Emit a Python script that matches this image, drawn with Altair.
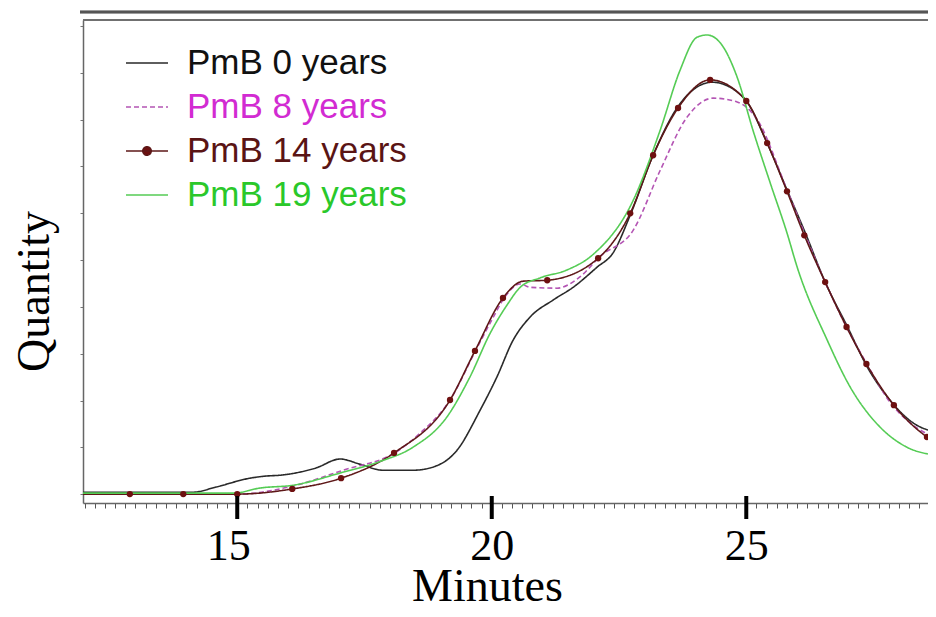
import altair as alt
import pandas as pd

# ---------------- data ----------------
series = ["PmB 0 years", "PmB 8 years", "PmB 14 years", "PmB 19 years"]
line_colors = ["#2a2a2a", "#b455b4", "#5e1818", "#55cc55"]
label_colors = ["#111111", "#d22bd2", "#5a1414", "#2ac82a"]
dashes = [[1, 0], [5, 3], [1, 0], [1, 0]]

p0_min = [11.97, 14.13, 14.58, 15.25, 15.51, 15.90, 16.55, 17.02, 17.41, 17.86,
          18.45, 18.79, 19.32, 19.77, 20.10, 20.42, 20.75, 21.21, 21.60, 22.07,
          22.38, 22.72, 23.17, 23.64, 24.33, 24.94, 25.41, 25.80, 26.16, 26.55,
          26.99, 27.38, 27.82, 28.28, 28.73]
p0_q = [0.04, 0.04, 0.15, 0.34, 0.38, 0.41, 0.56, 0.75, 0.64, 0.51,
        0.51, 0.56, 0.94, 1.79, 2.50, 3.29, 3.78, 4.15, 4.42, 4.85,
        5.15, 5.96, 7.24, 8.25, 8.80, 8.48, 7.50, 6.50, 5.58, 4.53,
        3.57, 2.71, 2.01, 1.52, 1.32]

p8_min = [11.97, 15.00, 16.08, 17.08, 18.12, 18.59, 19.18, 19.67, 20.03, 20.22,
          20.56, 20.75, 21.28, 21.73, 22.13, 22.78, 23.31, 23.84, 24.35, 24.82,
          25.21, 25.80, 26.16, 26.55, 26.97, 27.38, 27.82, 28.28, 28.73]
p8_q = [0, 0, 0.17, 0.51, 0.90, 1.30, 2.01, 3.04, 3.78, 4.15,
        4.49, 4.42, 4.40, 4.64, 5.08, 5.64, 6.92, 8.06, 8.46, 8.38,
        8.01, 6.50, 5.53, 4.53, 3.57, 2.76, 1.97, 1.47, 1.20]

p14_min = [11.97, 12.89, 13.94, 15.00, 16.08, 17.04, 18.08, 19.18, 19.67, 20.22,
           20.62, 21.09, 22.09, 22.72, 23.17, 23.66, 24.29, 25.00, 25.41, 25.80,
           26.14, 26.55, 26.97, 27.36, 27.90, 28.55, 28.73]
p14_q = [0, 0, 0, 0, 0.11, 0.34, 0.88, 2.01, 3.06, 4.19,
         4.55, 4.57, 5.04, 6.00, 7.24, 8.25, 8.85, 8.40, 7.50, 6.47,
         5.53, 4.53, 3.57, 2.78, 1.90, 1.22, 1.09]

m14_min = [12.89, 13.94, 15.00, 16.08, 17.04, 18.08, 19.18, 19.67, 20.22, 21.09,
           22.09, 22.72, 23.17, 23.66, 24.29, 25.00, 25.41, 25.80, 26.14, 26.55,
           26.97, 27.36, 27.90, 28.55]
m14_q = [0, 0, 0, 0.11, 0.34, 0.88, 2.01, 3.06, 4.19, 4.57,
         5.04, 6.00, 7.24, 8.25, 8.85, 8.40, 7.50, 6.47, 5.53, 4.53,
         3.57, 2.78, 1.90, 1.22]

p19_min = [11.97, 14.92, 15.45, 16.10, 17.02, 17.81, 18.45, 19.12, 19.57, 19.97,
           20.30, 20.56, 20.95, 21.48, 21.99, 22.78, 23.31, 23.70, 24.03,
           24.23, 24.49, 24.82, 25.13, 25.47, 25.80, 26.00, 26.59, 27.04, 27.63,
           28.16, 28.73]
p19_q = [0.02, 0.02, 0.13, 0.19, 0.45, 0.70, 1.00, 1.65, 2.50, 3.44,
         4.04, 4.42, 4.62, 4.79, 5.12, 6.28, 7.78, 9.06, 9.76,
         9.81, 9.64, 8.91, 7.78, 6.65, 5.58, 4.85, 3.29, 2.29, 1.43,
         1.00, 0.83]

major_ticks = [15, 20, 25]
minor_ticks = [round(12.0 + 0.2 * i, 1) for i in range(83)]
y_ticks = list(range(11))

PLOT_W, PLOT_H = 845, 483

# ---------------- tables ----------------
rows = []
for name, xs, ys in zip(series, [p0_min, p8_min, p14_min, p19_min],
                        [p0_q, p8_q, p14_q, p19_q]):
    for m, q in zip(xs, ys):
        rows.append({"series": name, "minutes": m, "quantity": q})
lines_df = pd.DataFrame(rows)
marks_df = pd.DataFrame({"minutes": m14_min, "quantity": m14_q})
major_df = pd.DataFrame({"tick": major_ticks})

x_scale = alt.Scale(domain=[11.97, 28.57], nice=False, zero=False)
y_scale = alt.Scale(domain=[-0.19, 10.13], nice=False, zero=False)

label_color_expr = "".join(
    f"datum.label == '{s}' ? '{c}' : " for s, c in zip(series[:-1], label_colors[:-1])
) + f"'{label_colors[-1]}'"
dot_path = "M-1,0H1M-0.2,0A0.2,0.2,0,1,0,0.2,0A0.2,0.2,0,1,0,-0.2,0"
symbol_expr = f"datum.label == '{series[2]}' ? '{dot_path}' : 'stroke'"
symbol_fill_expr = f"datum.label == '{series[2]}' ? '#6e1010' : 'transparent'"

legend = alt.Legend(
    title=None, orient="none", legendX=42, legendY=21, direction="vertical",
    padding=0, symbolType={"expr": symbol_expr}, symbolSize=1764,
    symbolStrokeWidth=1.6, symbolFillColor={"expr": symbol_fill_expr},
    labelFont="Liberation Sans", labelFontSize=35,
    labelColor={"expr": label_color_expr}, labelOffset=18, rowPadding=4,
    labelLimit=400,
)

major_test = "indexof([" + ",".join(str(t) for t in major_ticks) + "], datum.value) >= 0"

bottom_axis = alt.Axis(
    orient="bottom", values=minor_ticks, tickSize=5,
    tickColor="#555555", tickWidth=1, domainColor="#666666", domainWidth=1.5,
    grid=False,
    labelExpr=f"{major_test} ? format(datum.value, 'd') : ''",
    labelFont="Liberation Serif", labelFontSize=44, labelColor="black",
    labelPadding=51, labelBaseline="alphabetic", labelOverlap=False,
    labelFlush=False,
    labelOffset={"condition": {"test": "datum.value == 15", "value": -9}, "value": 0},
    title="Minutes", titleFont="Liberation Serif", titleFontSize=46,
    titleFontWeight="normal", titleColor="black", titleX=404, titleY=97,
    titleBaseline="alphabetic", titleAlign="center",
)
left_axis = alt.Axis(
    orient="left", values=y_ticks, tickSize=3, tickColor="#777777",
    domainColor="#666666", domainWidth=1.5, labels=False, grid=False,
    title="Quantity", titleFont="Liberation Serif", titleFontSize=46,
    titleFontWeight="normal", titleColor="black", titleAngle=270,
    titleX=-35, titleY=271, titleAlign="center", titleBaseline="alphabetic",
)

lines = alt.Chart(lines_df).mark_line(
    interpolate="monotone", strokeWidth=1.6, clip=True
).encode(
    x=alt.X("minutes:Q", scale=x_scale, axis=bottom_axis),
    y=alt.Y("quantity:Q", scale=y_scale, axis=left_axis),
    color=alt.Color("series:N", scale=alt.Scale(domain=series, range=line_colors),
                    legend=legend),
    strokeDash=alt.StrokeDash("series:N", scale=alt.Scale(domain=series, range=dashes),
                              legend=legend),
)

markers = alt.Chart(marks_df).mark_circle(
    size=40, color="#6e1010", opacity=1, clip=True
).encode(
    x=alt.X("minutes:Q", axis=None),
    y=alt.Y("quantity:Q", axis=left_axis),
)

rules = alt.Chart(major_df).mark_rule(strokeWidth=4, color="black", clip=False).encode(
    x=alt.X("tick:Q", axis=None),
    y=alt.value(476),
    y2=alt.value(499),
)

# double frame line along the top edge of the plot area
frame_inner = alt.Chart(major_df).mark_rule(
    color="#707070", strokeWidth=1.8, clip=False
).encode(
    x=alt.value(0), x2=alt.value(PLOT_W), y=alt.value(0),
)
frame_outer = alt.Chart(major_df).mark_rule(
    color="#555555", strokeWidth=2.5, clip=False
).encode(
    x=alt.value(-3), x2=alt.value(PLOT_W), y=alt.value(-8),
)

chart = alt.layer(lines, markers, rules, frame_inner, frame_outer).resolve_axis(
    x="independent"
).properties(
    width=PLOT_W, height=PLOT_H,
    padding={"left": 75, "top": 12, "right": 0, "bottom": 100},
    autosize=alt.AutoSizeParams(type="none"),
    background="white",
).configure_view(stroke=None)

chart.save("out.html", embed_options={"renderer": "svg", "actions": False})
